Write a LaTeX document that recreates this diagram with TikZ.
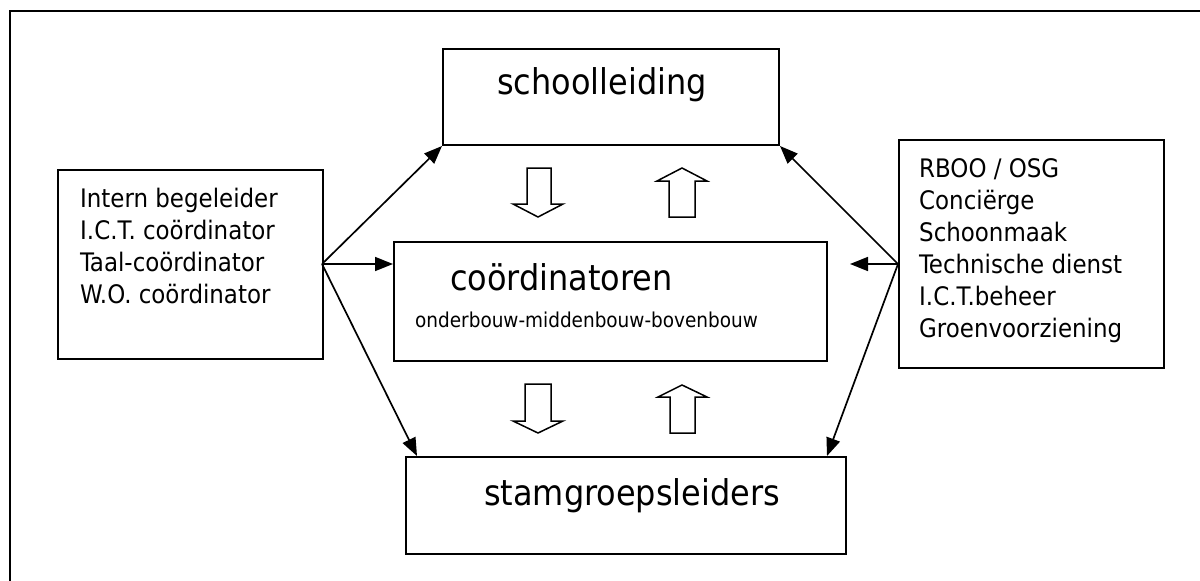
\documentclass[tikz,border=0pt]{standalone}
\usepackage{fontspec}
\setmainfont{DejaVu Sans Condensed}
\usetikzlibrary{arrows.meta}
\begin{document}
\begin{tikzpicture}[x=1pt,y=-1pt,
  box/.style={draw, line width=2pt, rectangle, inner sep=0pt, anchor=north west},
  link/.style={line width=1.7pt, -{Triangle[length=18pt,width=14pt]}},
  fat/.style={draw, line width=1.5pt, line join=miter, fill=white},
  big/.style={font=\fontsize{35.5}{42}\selectfont, inner sep=0pt, anchor=base west},
  small/.style={font=\fontsize{20.5}{25}\selectfont, inner sep=0pt, anchor=base west},
  list/.style={font=\fontsize{25.5}{32}\selectfont, inner sep=0pt, align=left, anchor=north west}]
\useasboundingbox (0,0) rectangle (1200,581);

% page frame
\draw[line width=2.8pt] (10,581) -- (10,11) -- (1200,11);

% boxes
\node[box, minimum width=336pt, minimum height=96pt] (sl) at (442,48) {};
\node[box, minimum width=433pt, minimum height=119pt] (co) at (393,241) {};
\node[box, minimum width=440pt, minimum height=97pt] (sg) at (405,456) {};
\node[box, minimum width=265pt, minimum height=189pt] (lb) at (57,169) {};
\node[box, minimum width=265pt, minimum height=228pt] (rb) at (898,139) {};

% texts
\node[big] (slt) at (497,94) {schoolleiding};
\node[big] (cot) at (450,290) {coördinatoren};
\node[small] (cos) at (415,327) {onderbouw-middenbouw-bovenbouw};
\node[big] (sgt) at (484,505) {stamgroepsleiders};
\node[list] (lbt) at (80,188) {Intern begeleider\\I.C.T. coördinator\\Taal-coördinator\\W.O. coördinator};
\node[list] (rbt) at (919,158) {RBOO / OSG\\Conciërge\\Schoonmaak\\Technische dienst\\I.C.T.beheer\\Groenvoorziening};

% connector end points
\coordinate (ls) at (322,264);
\coordinate (rs) at (898,264);
\coordinate (rc) at (850,264);
\coordinate (sgl) at (417,456);
\coordinate (sgr) at (827,456);

% connectors
\draw[link] (ls) -- (sl.south west);
\draw[link] (ls) -- (ls -| co.west);
\draw[link] (ls) -- (sgl);
\draw[link] (rs) -- (sl.south east);
\draw[link] (rs) -- (rc);
\draw[link] (rs) -- (sgr);

% block arrows between the levels
\draw[fat] (527,168) -- (551,168) -- (551,204) -- (563,204) -- (538,217) -- (513,204) -- (527,204) -- cycle;
\draw[fat] (669,217) -- (695,217) -- (695,181) -- (707,181) -- (682,168) -- (657,181) -- (669,181) -- cycle;
\draw[fat] (525,384) -- (551,384) -- (551,421) -- (563,421) -- (538,433) -- (513,421) -- (525,421) -- cycle;
\draw[fat] (670,433) -- (695,433) -- (695,397) -- (707,397) -- (682,385) -- (658,397) -- (670,397) -- cycle;
\end{tikzpicture}
\end{document}
